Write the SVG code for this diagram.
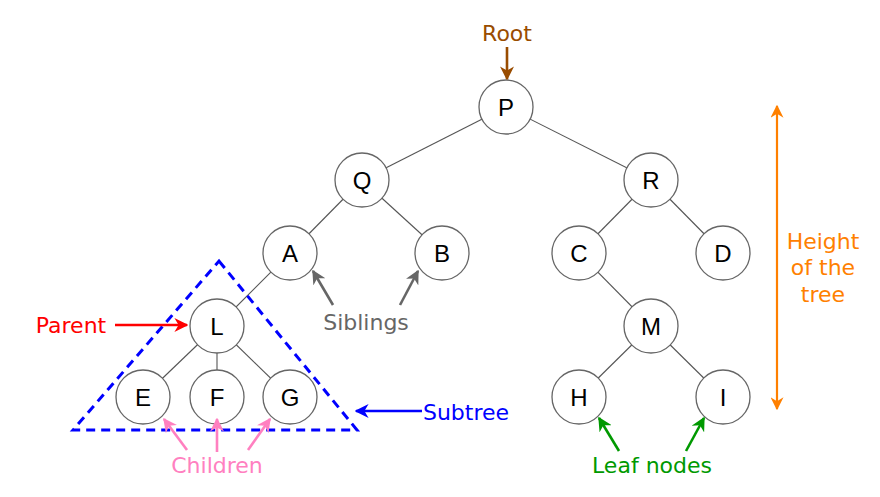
<svg xmlns="http://www.w3.org/2000/svg" width="880" height="497" viewBox="0 0 880 497">
<style>
.node circle{fill:#fff;stroke:#666;stroke-width:1.3}
.node text{font-family:"Liberation Sans",Arial,sans-serif;font-size:24px;fill:#000;text-anchor:middle;dominant-baseline:central}
.edge{stroke:#555;stroke-width:1.1;fill:none}
.lbl{font-family:"DejaVu Sans",Verdana,sans-serif;font-size:22px;text-anchor:middle}
.arr{stroke-width:2.6;fill:none}
</style>
<defs>
<marker id="mBrown" viewBox="0 0 10 10" refX="9" refY="5" markerWidth="14" markerHeight="14" markerUnits="userSpaceOnUse" orient="auto"><path d="M0,0 L10,5 L0,10 L3,5 z" fill="#994C00"/></marker>
<marker id="mRed" viewBox="0 0 10 10" refX="9" refY="5" markerWidth="14" markerHeight="14" markerUnits="userSpaceOnUse" orient="auto"><path d="M0,0 L10,5 L0,10 L3,5 z" fill="#FF0000"/></marker>
<marker id="mGray" viewBox="0 0 10 10" refX="9" refY="5" markerWidth="14" markerHeight="14" markerUnits="userSpaceOnUse" orient="auto"><path d="M0,0 L10,5 L0,10 L3,5 z" fill="#666666"/></marker>
<marker id="mBlue" viewBox="0 0 10 10" refX="9" refY="5" markerWidth="14" markerHeight="14" markerUnits="userSpaceOnUse" orient="auto"><path d="M0,0 L10,5 L0,10 L3,5 z" fill="#0000FF"/></marker>
<marker id="mPink" viewBox="0 0 10 10" refX="9" refY="5" markerWidth="14" markerHeight="14" markerUnits="userSpaceOnUse" orient="auto"><path d="M0,0 L10,5 L0,10 L3,5 z" fill="#FF80C0"/></marker>
<marker id="mGreen" viewBox="0 0 10 10" refX="9" refY="5" markerWidth="14" markerHeight="14" markerUnits="userSpaceOnUse" orient="auto"><path d="M0,0 L10,5 L0,10 L3,5 z" fill="#009900"/></marker>
<marker id="mOrange" viewBox="0 0 10 10" refX="9" refY="5" markerWidth="13" markerHeight="13" markerUnits="userSpaceOnUse" orient="auto-start-reverse"><path d="M0,0 L10,5 L0,10 L3,5 z" fill="#FF8000"/></marker>
</defs>
<g id="connectors">
<line class="edge" x1="506" y1="107" x2="362" y2="180"/>
<line class="edge" x1="506" y1="107" x2="651" y2="180"/>
<line class="edge" x1="362" y1="180" x2="290" y2="253"/>
<line class="edge" x1="362" y1="180" x2="442" y2="253"/>
<line class="edge" x1="651" y1="180" x2="579" y2="253"/>
<line class="edge" x1="651" y1="180" x2="723" y2="253"/>
<line class="edge" x1="290" y1="253" x2="217" y2="326"/>
<line class="edge" x1="579" y1="253" x2="651" y2="326"/>
<line class="edge" x1="217" y1="326" x2="143" y2="397"/>
<line class="edge" x1="217" y1="326" x2="217" y2="397"/>
<line class="edge" x1="217" y1="326" x2="290" y2="397"/>
<line class="edge" x1="651" y1="326" x2="579" y2="397"/>
<line class="edge" x1="651" y1="326" x2="723" y2="397"/>
</g>
<g id="subtree-outline">
<path d="M219,261 L357,430 L73,430 Z" fill="none" stroke="#0000FF" stroke-width="3" stroke-dasharray="9 6"/>
</g>
<g id="node-P" class="node"><circle cx="506" cy="107" r="27"/><text x="506" y="107">P</text></g>
<g id="node-Q" class="node"><circle cx="362" cy="180" r="27"/><text x="362" y="180">Q</text></g>
<g id="node-R" class="node"><circle cx="651" cy="180" r="27"/><text x="651" y="180">R</text></g>
<g id="node-A" class="node"><circle cx="290" cy="253" r="27"/><text x="290" y="253">A</text></g>
<g id="node-B" class="node"><circle cx="442" cy="253" r="27"/><text x="442" y="253">B</text></g>
<g id="node-C" class="node"><circle cx="579" cy="253" r="27"/><text x="579" y="253">C</text></g>
<g id="node-D" class="node"><circle cx="723" cy="253" r="27"/><text x="723" y="253">D</text></g>
<g id="node-L" class="node"><circle cx="217" cy="326" r="27"/><text x="217" y="326">L</text></g>
<g id="node-M" class="node"><circle cx="651" cy="326" r="27"/><text x="651" y="326">M</text></g>
<g id="node-E" class="node"><circle cx="143" cy="397" r="27"/><text x="143" y="397">E</text></g>
<g id="node-F" class="node"><circle cx="217" cy="397" r="27"/><text x="217" y="397">F</text></g>
<g id="node-G" class="node"><circle cx="290" cy="397" r="27"/><text x="290" y="397">G</text></g>
<g id="node-H" class="node"><circle cx="579" cy="397" r="27"/><text x="579" y="397">H</text></g>
<g id="node-I" class="node"><circle cx="723" cy="397" r="27"/><text x="723" y="397">I</text></g>
<g id="label-root">
<text class="lbl" x="507" y="41" fill="#994C00">Root</text>
<line class="arr" x1="507" y1="47" x2="507" y2="79" stroke="#994C00" marker-end="url(#mBrown)"/>
</g>
<g id="label-parent">
<text class="lbl" x="71" y="333" fill="#FF0000">Parent</text>
<line class="arr" x1="115" y1="325" x2="187" y2="325" stroke="#FF0000" marker-end="url(#mRed)"/>
</g>
<g id="label-siblings">
<text class="lbl" x="366" y="330" fill="#666666">Siblings</text>
<line class="arr" x1="333" y1="305" x2="313" y2="271" stroke="#666666" marker-end="url(#mGray)"/>
<line class="arr" x1="400" y1="305" x2="418" y2="271" stroke="#666666" marker-end="url(#mGray)"/>
</g>
<g id="label-subtree">
<text class="lbl" x="466" y="420" fill="#0000FF">Subtree</text>
<line class="arr" x1="422" y1="411" x2="356" y2="411" stroke="#0000FF" marker-end="url(#mBlue)"/>
</g>
<g id="label-children">
<text class="lbl" x="217" y="473" fill="#FF80C0">Children</text>
<line class="arr" x1="187" y1="450" x2="164" y2="419" stroke="#FF80C0" marker-end="url(#mPink)"/>
<line class="arr" x1="217" y1="452" x2="217" y2="419" stroke="#FF80C0" marker-end="url(#mPink)"/>
<line class="arr" x1="248" y1="450" x2="270" y2="419" stroke="#FF80C0" marker-end="url(#mPink)"/>
</g>
<g id="label-leaf">
<text class="lbl" x="652" y="473" fill="#009900">Leaf nodes</text>
<line class="arr" x1="619" y1="451" x2="599" y2="418" stroke="#009900" marker-end="url(#mGreen)"/>
<line class="arr" x1="686" y1="451" x2="704" y2="418" stroke="#009900" marker-end="url(#mGreen)"/>
</g>
<g id="label-height">
<line x1="777" y1="106" x2="777" y2="409" stroke="#FF8000" stroke-width="2.2" marker-start="url(#mOrange)" marker-end="url(#mOrange)"/>
<text class="lbl" fill="#FF8000"><tspan x="823" y="249">Height</tspan><tspan x="823" y="275">of the</tspan><tspan x="823" y="302">tree</tspan></text>
</g>
</svg>
